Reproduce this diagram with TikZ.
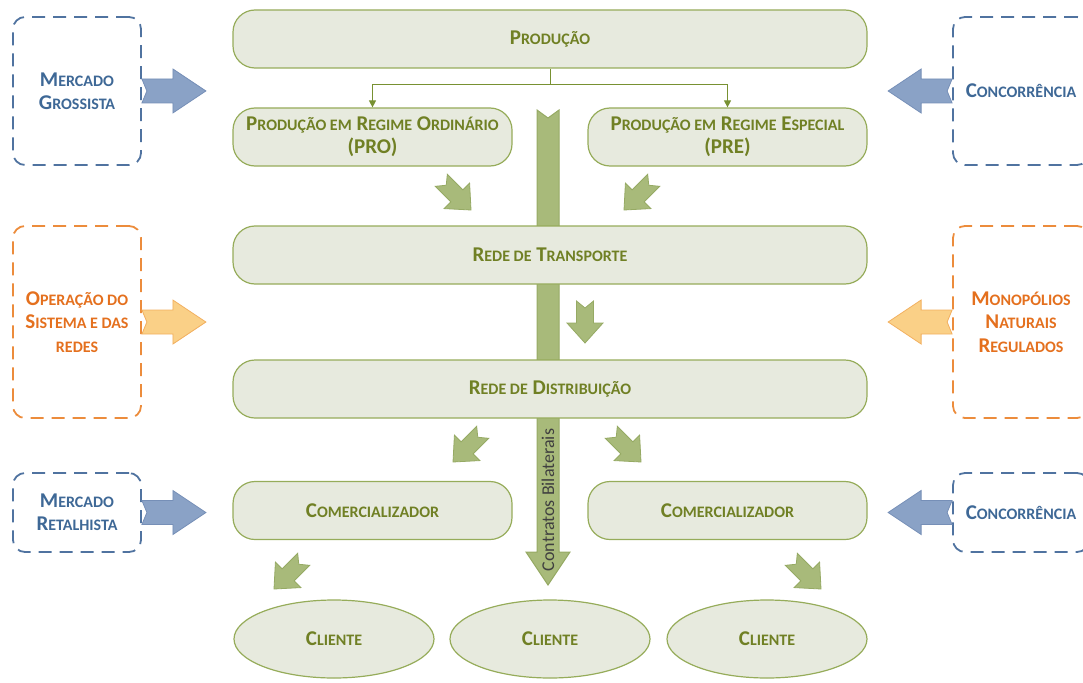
\documentclass[tikz,border=0pt]{standalone}
\usepackage{fontspec}
\setmainfont{Carlito}
\usetikzlibrary{arrows.meta,shapes.geometric}
\definecolor{gtext}{RGB}{112,128,36}
\definecolor{gfill}{RGB}{231,234,222}
\definecolor{gdraw}{RGB}{150,172,90}
\definecolor{garr}{RGB}{168,186,122}
\definecolor{garrd}{RGB}{150,170,100}
\definecolor{gline}{RGB}{120,145,50}
\definecolor{btext}{RGB}{62,104,150}
\definecolor{bdash}{RGB}{80,115,160}
\definecolor{barr}{RGB}{138,162,198}
\definecolor{barrd}{RGB}{118,143,183}
\definecolor{otext}{RGB}{228,112,30}
\definecolor{odash}{RGB}{236,140,60}
\definecolor{oarr}{RGB}{250,208,135}
\definecolor{oarrd}{RGB}{242,175,95}
\newcommand\sk[1]{{\fontsize{16}{18}\selectfont #1}}
\begin{document}
\begin{tikzpicture}[x=1pt,y=-1pt,
  lbl/.style={font=\fontsize{21}{23}\selectfont\bfseries, align=center},
  gbox/.style={lbl, draw=gdraw, fill=gfill, line width=1.2pt, rounded corners=22pt, inner sep=0pt, text=gtext},
  wide/.style={gbox, minimum width=634pt, minimum height=58pt},
  half/.style={gbox, minimum width=279pt, minimum height=58pt},
  client/.style={lbl, ellipse, draw=gdraw, fill=gfill, line width=1.2pt, minimum width=200pt, minimum height=78pt, inner sep=0pt, text=gtext},
  dbox/.style={lbl, dash pattern=on 13pt off 8pt, line width=1.8pt, rounded corners=12pt, inner sep=0pt, minimum width=128pt},
  bbox/.style={dbox, draw=bdash, text=btext},
  obox/.style={dbox, draw=odash, text=otext},
  conn/.style={draw=gline, line width=1pt, -{Triangle[width=7pt,length=7pt]}},
  garrow/.pic={\path[fill=garr, draw=garrd, line width=0.8pt] (0,0) -- (-20,-18) -- (-20,-8.5) -- (-42,-8.5) -- (-35,0) -- (-42,8.5) -- (-20,8.5) -- (-20,18) -- cycle;},
  sidearr/.pic={\path[pic actions, line width=0.8pt] (0,-12) -- (31,-12) -- (31,-22) -- (64,0) -- (31,22) -- (31,12) -- (0,12) -- (5,0) -- cycle;}
]
\useasboundingbox (0,0) rectangle (1083,682);
\clip (0,0) rectangle (1083,682);

% big vertical arrow (behind boxes)
\path[fill=garr, draw=garrd, line width=1pt] (537,110) -- (548,118) -- (559,110) -- (559,552) -- (570,552) -- (548,585) -- (526,552) -- (537,552) -- cycle;
\node[rotate=90, font=\fontsize{18}{20}\selectfont, text=black!75] (cb) at (548,500) {Contratos Bilaterais};

% main boxes
\node[wide] (prod) at (550,39) {P\sk{RODUÇÃO}};
\node[half] (pro) at (372.5,137) {P\sk{RODUÇÃO EM} R\sk{EGIME} O\sk{RDINÁRIO}\\(PRO)};
\node[half] (pre) at (727.5,137) {P\sk{RODUÇÃO EM} R\sk{EGIME} E\sk{SPECIAL}\\(PRE)};
\node[wide] (rt) at (550,255) {R\sk{EDE DE} T\sk{RANSPORTE}};
\node[wide] (rd) at (550,389) {R\sk{EDE DE} D\sk{ISTRIBUIÇÃO}};
\node[half] (coml) at (372.5,510.5) {C\sk{OMERCIALIZADOR}};
\node[half] (comr) at (727.5,510.5) {C\sk{OMERCIALIZADOR}};
\node[client] (c1) at (334,639) {C\sk{LIENTE}};
\node[client] (c2) at (550,639) {C\sk{LIENTE}};
\node[client] (c3) at (767,639) {C\sk{LIENTE}};

% connectors from Produção
\coordinate (split) at (550,85);
\draw[gline, line width=1pt] (prod.south) -- (split);
\draw[conn] (split) -| (pro.north);
\draw[conn] (split) -| (pre.north);

% green block arrows
\pic[rotate=-45] at (471,210) {garrow};
\pic[rotate=-135] at (624,210) {garrow};
\pic[rotate=-90] at (585,343) {garrow};
\pic[rotate=-135] at (453,462) {garrow};
\pic[rotate=-45] at (641,462) {garrow};
\pic[rotate=-135] at (274,589) {garrow};
\pic[rotate=-45] at (821,589) {garrow};

% side boxes
\node[bbox, minimum height=148pt] (mg) at (77,91) {M\sk{ERCADO}\\G\sk{ROSSISTA}};
\node[obox, minimum height=192pt, font=\fontsize{21}{23.5}\selectfont\bfseries] (op) at (77,322) {O\sk{PERAÇÃO DO}\\S\sk{ISTEMA E DAS}\\\sk{REDES}};
\node[bbox, minimum height=79pt] (mr) at (77,512.5) {M\sk{ERCADO}\\R\sk{ETALHISTA}};
\node[bbox, minimum width=136pt, minimum height=148pt] (c1box) at (1021,91) {C\sk{ONCORRÊNCIA}};
\node[obox, minimum width=136pt, minimum height=192pt, font=\fontsize{21}{23.5}\selectfont\bfseries] (mn) at (1021,322) {M\sk{ONOPÓLIOS}\\N\sk{ATURAIS}\\R\sk{EGULADOS}};
\node[bbox, minimum width=136pt, minimum height=79pt] (c2box) at (1021,512.5) {C\sk{ONCORRÊNCIA}};

% side arrows
\pic[fill=barr, draw=barrd] at (mg.east) {sidearr};
\pic[fill=oarr, draw=oarrd] at (op.east) {sidearr};
\pic[fill=barr, draw=barrd] at (mr.east) {sidearr};
\pic[fill=barr, draw=barrd, rotate=180] at (c1box.west) {sidearr};
\pic[fill=oarr, draw=oarrd, rotate=180] at (mn.west) {sidearr};
\pic[fill=barr, draw=barrd, rotate=180] at (c2box.west) {sidearr};
\end{tikzpicture}
\end{document}
